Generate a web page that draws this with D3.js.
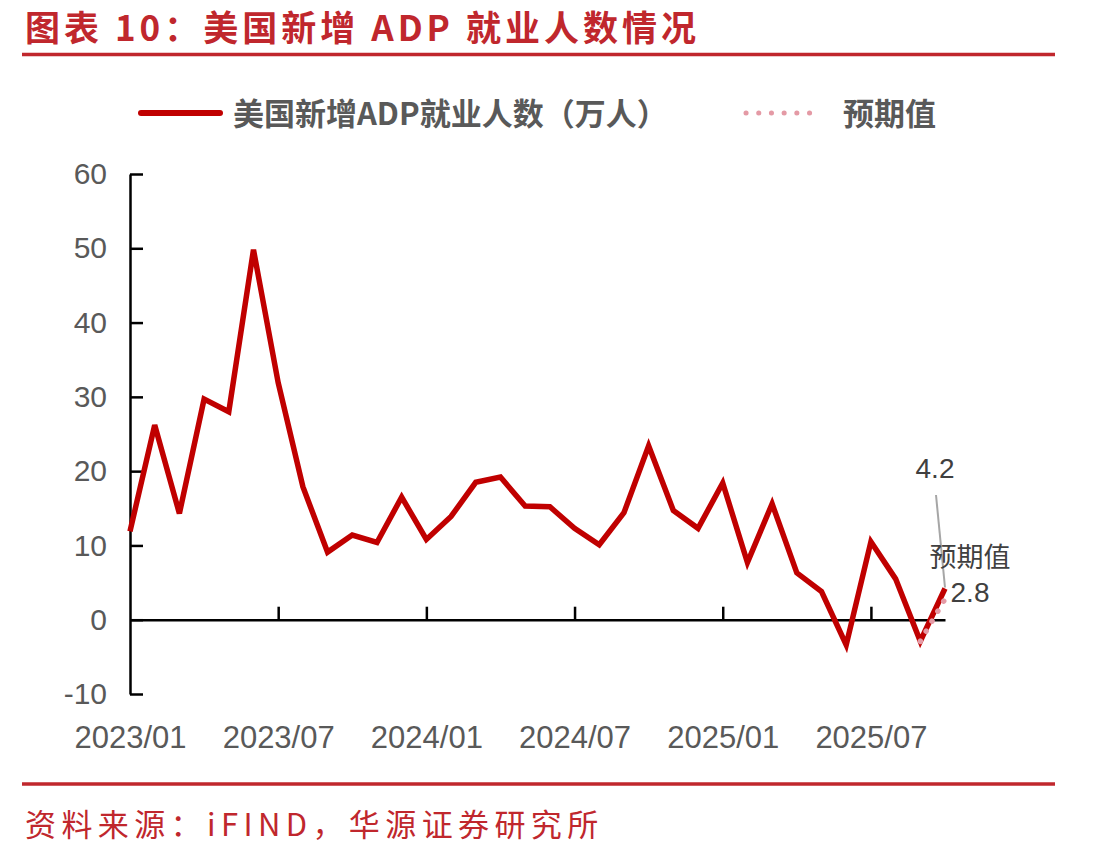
<!DOCTYPE html>
<html>
<head>
<meta charset="utf-8">
<script src="https://cdn.jsdelivr.net/npm/d3@7/dist/d3.min.js"></script>
<style>
  body { margin: 0; background: #fff; }
  svg { display: block; }
</style>
</head>
<body>
<div id="chart"></div>
<script>
// monthly data, 万人
var months = ["2023/01","2023/02","2023/03","2023/04","2023/05","2023/06","2023/07","2023/08","2023/09","2023/10","2023/11","2023/12",
              "2024/01","2024/02","2024/03","2024/04","2024/05","2024/06","2024/07","2024/08","2024/09","2024/10","2024/11","2024/12",
              "2025/01","2025/02","2025/03","2025/04","2025/05","2025/06","2025/07","2025/08","2025/09","2025/10"];
var adpValues = [11.9, 26.2, 14.3, 29.7, 28.0, 49.8, 31.9, 17.9, 9.1, 11.4, 10.4, 16.5,
                 10.8, 13.9, 18.5, 19.2, 15.3, 15.2, 12.3, 10.1, 14.4, 23.4, 14.7, 12.3,
                 18.4, 7.7, 15.6, 6.3, 3.8, -3.4, 10.5, 5.5, -2.9, 4.2];
// expectation series (only last two months)
var expMonths = ["2025/09", "2025/10"];
var expValues = [-2.9, 2.8];
var xTickLabels = ["2023/01","2023/07","2024/01","2024/07","2025/01","2025/07"];
var yTicks = [-10, 0, 10, 20, 30, 40, 50, 60];

var W = 1113, H = 857;
var red = "#C00000", pink = "#E49AA5", brand = "#C0272D", gray = "#595959";

var svg = d3.select("#chart").append("svg")
    .attr("width", W).attr("height", H);

// title + rules
svg.append("text")
    .attr("x", 25).attr("y", 41)
    .style("font-family", "'Noto Sans CJK SC', sans-serif")
    .style("font-weight", 700).style("font-size", "35px")
    .style("letter-spacing", "4px")
    .attr("fill", brand)
    .text("图表 10：美国新增 ADP 就业人数情况");
svg.append("line").attr("x1", 22).attr("x2", 1055).attr("y1", 54.5).attr("y2", 54.5)
    .attr("stroke", brand).attr("stroke-width", 3.5);
svg.append("line").attr("x1", 22).attr("x2", 1055).attr("y1", 784).attr("y2", 784)
    .attr("stroke", brand).attr("stroke-width", 3.5);
svg.append("text")
    .attr("x", 25).attr("y", 836)
    .style("font-family", "'Noto Sans CJK SC', sans-serif")
    .style("font-size", "31px").style("letter-spacing", "5.4px")
    .attr("fill", brand)
    .text("资料来源：iFIND，华源证券研究所");

// scales
var x = d3.scalePoint().domain(months).range([130, 945]);
var y = d3.scaleLinear().domain([-10, 60]).range([694, 174]);

// y axis
var yAxis = svg.append("g")
    .attr("transform", "translate(130,0)")
    .call(d3.axisLeft(y).tickValues(yTicks).tickFormat(function(d){ return String(d); })
          .tickSize(-13).tickSizeOuter(0).tickPadding(23));
yAxis.select(".domain").attr("stroke", "#000").attr("stroke-width", 2.5);
yAxis.selectAll(".tick line").attr("stroke", "#000").attr("stroke-width", 2.5);
yAxis.selectAll(".tick text")
    .style("font-family", "'Liberation Sans', Arial, sans-serif")
    .style("font-size", "30px").attr("fill", gray);

// x axis on zero line
var xAxis = svg.append("g")
    .attr("transform", "translate(0," + y(0) + ")")
    .call(d3.axisBottom(x).tickValues(xTickLabels).tickSize(-13).tickSizeOuter(0).tickPadding(106));
xAxis.select(".domain").attr("stroke", "#000").attr("stroke-width", 2.5);
xAxis.selectAll(".tick line").attr("stroke", "#000").attr("stroke-width", 2.5)
    .filter(function(d){ return d === months[0]; }).remove();
xAxis.selectAll(".tick text")
    .style("font-family", "'Liberation Sans', Arial, sans-serif")
    .style("font-size", "31px").attr("fill", gray);

// main line
var line = d3.line()
    .x(function(d){ return x(d[0]); })
    .y(function(d){ return y(d[1]); });

svg.append("path")
    .datum(d3.zip(months, adpValues))
    .attr("d", line)
    .attr("fill", "none").attr("stroke", red)
    .attr("stroke-width", 5.5).attr("stroke-linejoin", "miter");

// expectation dotted line
svg.append("path")
    .datum(d3.zip(expMonths, expValues))
    .attr("d", line)
    .attr("fill", "none").attr("stroke", pink)
    .attr("stroke-width", 5.5).attr("stroke-linecap", "round")
    .attr("stroke-dasharray", "0.1 11.5");

// annotations
var lastM = months[months.length - 1], lastV = adpValues[adpValues.length - 1];
svg.append("line")
    .attr("x1", 936).attr("y1", 495)
    .attr("x2", x(lastM)).attr("y2", y(lastV) - 1)
    .attr("stroke", "#A6A6A6").attr("stroke-width", 2);
svg.append("text")
    .attr("x", 935).attr("y", 478).attr("text-anchor", "middle")
    .style("font-family", "'Liberation Sans', Arial, sans-serif").style("font-size", "28px")
    .attr("fill", "#404040").text(lastV.toFixed(1));
svg.append("text")
    .attr("x", 970).attr("y", 567).attr("text-anchor", "middle")
    .style("font-family", "'Noto Sans CJK SC', sans-serif").style("font-size", "27px")
    .attr("fill", "#404040").text("预期值");
svg.append("text")
    .attr("x", 970).attr("y", 602).attr("text-anchor", "middle")
    .style("font-family", "'Liberation Sans', Arial, sans-serif").style("font-size", "28px")
    .attr("fill", "#404040").text(expValues[1].toFixed(1));

// legend
var lg = svg.append("g");
lg.append("line").attr("x1", 141).attr("x2", 220).attr("y1", 113).attr("y2", 113)
    .attr("stroke", red).attr("stroke-width", 6).attr("stroke-linecap", "round");
lg.append("text").attr("x", 233).attr("y", 125)
    .style("font-family", "'Noto Sans CJK SC', sans-serif").style("font-weight", 700)
    .style("font-size", "31px").attr("fill", gray)
    .text("美国新增ADP就业人数（万人）");
lg.append("line").attr("x1", 746).attr("x2", 822).attr("y1", 113).attr("y2", 113)
    .attr("stroke", pink).attr("stroke-width", 5).attr("stroke-linecap", "round")
    .attr("stroke-dasharray", "0.1 12.6");
lg.append("text").attr("x", 843).attr("y", 125)
    .style("font-family", "'Noto Sans CJK SC', sans-serif").style("font-weight", 700)
    .style("font-size", "31px").attr("fill", gray)
    .text("预期值");
</script>
</body>
</html>
